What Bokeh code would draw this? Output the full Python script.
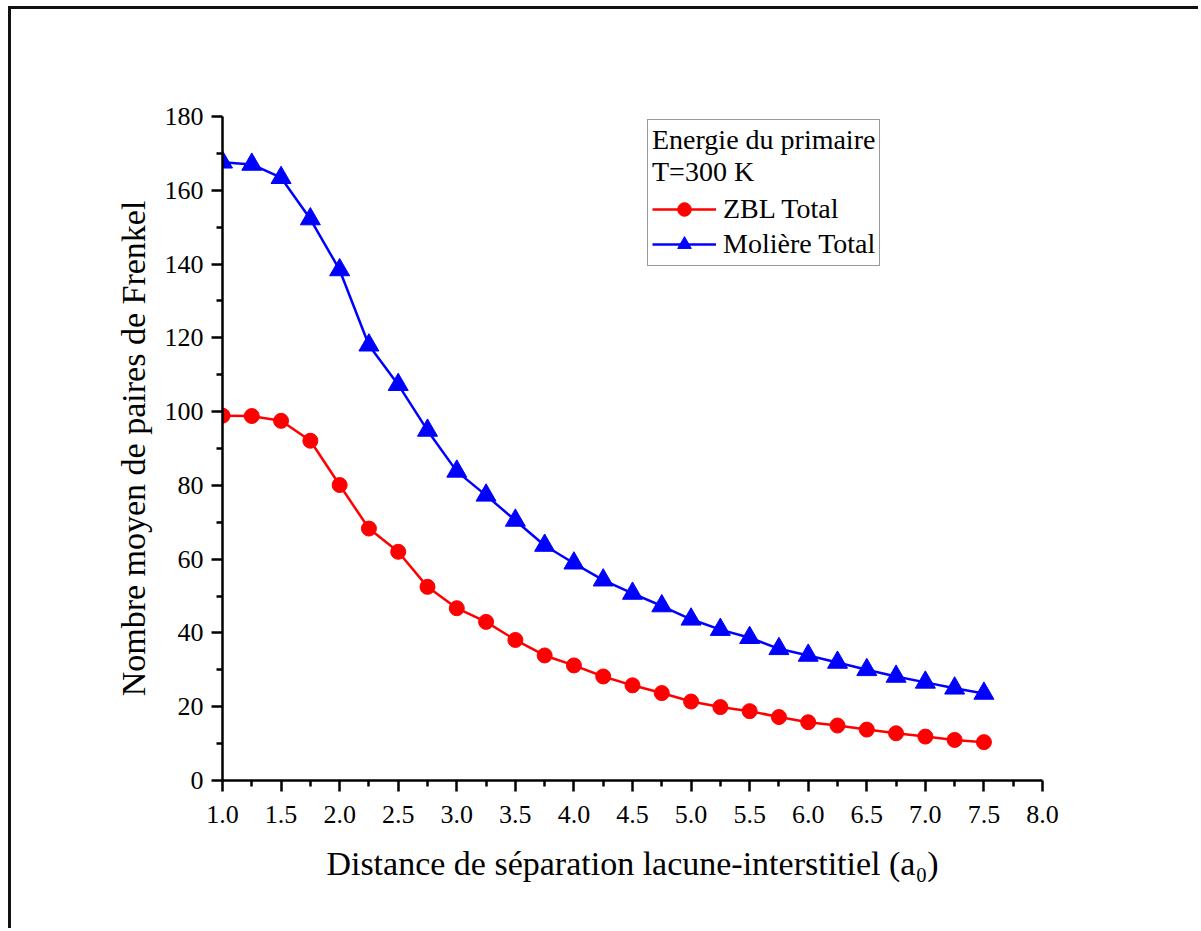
from bokeh.plotting import figure
from bokeh.models import (Range1d, FixedTicker, Legend, LegendItem, ColumnDataSource)
from bokeh.embed import file_html
from bokeh.resources import INLINE

# ---- data ----
distance = [1.0, 1.25, 1.5, 1.75, 2.0, 2.25, 2.5, 2.75, 3.0, 3.25, 3.5, 3.75, 4.0,
            4.25, 4.5, 4.75, 5.0, 5.25, 5.5, 5.75, 6.0, 6.25, 6.5, 6.75, 7.0, 7.25, 7.5]
zbl_total = [98.9, 98.8, 97.5, 92.1, 80.1, 68.3, 62.0, 52.5, 46.7, 43.0, 38.1, 33.9, 31.2,
             28.2, 25.8, 23.7, 21.4, 19.9, 18.8, 17.2, 15.8, 14.9, 13.8, 12.8, 11.9, 11.0, 10.4]
moliere_total = [167.6, 167.0, 163.4, 152.2, 138.4, 118.0, 107.3, 94.9, 83.8, 77.3, 70.5, 63.7, 58.9,
                 54.3, 50.7, 47.3, 43.7, 40.9, 38.7, 35.7, 33.9, 32.0, 30.0, 28.2, 26.6, 25.0, 23.6]

x_ticks = [1.0, 1.5, 2.0, 2.5, 3.0, 3.5, 4.0, 4.5, 5.0, 5.5, 6.0, 6.5, 7.0, 7.5, 8.0]
x_tick_labels = ["1.0", "1.5", "2.0", "2.5", "3.0", "3.5", "4.0", "4.5", "5.0", "5.5",
                 "6.0", "6.5", "7.0", "7.5", "8.0"]
x_minor = [1.25, 1.75, 2.25, 2.75, 3.25, 3.75, 4.25, 4.75, 5.25, 5.75, 6.25, 6.75, 7.25, 7.75]
y_ticks = [0, 20, 40, 60, 80, 100, 120, 140, 160, 180]
y_minor = [10, 30, 50, 70, 90, 110, 130, 150, 170]

legend_title = "Energie du primaire\nT=300 K"
series_names = ["ZBL Total", "Molière Total"]

FONT = "Liberation Serif"

W, H = 1190, 922
FL, FT, FW, FH = 211, 107, 820, 664

p = figure(width=W, height=H, output_backend="svg", toolbar_location=None,
           x_range=Range1d(1.0, 8.0), y_range=Range1d(0, 180),
           min_border_left=FL, min_border_top=FT,
           min_border_right=W - FL - FW, min_border_bottom=H - FT - FH,
           margin=(6, 0, 0, 8),
           styles={"border-left": "3px solid #111111", "border-top": "3px solid #111111"})

p.outline_line_color = None
p.xgrid.visible = False
p.ygrid.visible = False
p.background_fill_color = "white"
p.border_fill_color = "white"

src = ColumnDataSource(dict(x=distance, zbl=zbl_total, mol=moliere_total))

l1 = p.line("x", "zbl", source=src, line_color="#FF0000", line_width=2.5)
s1 = p.scatter("x", "zbl", source=src, marker="circle", size=15,
               fill_color="#FF0000", line_color="#FF0000")
l2 = p.line("x", "mol", source=src, line_color="#0000FF", line_width=2.5)
s2 = p.scatter("x", "mol", source=src, marker="triangle", size=20,
               fill_color="#0000FF", line_color="#0000FF")

for ax in (p.xaxis[0], p.yaxis[0]):
    ax.axis_line_width = 2.5
    ax.axis_line_color = "black"
    ax.major_tick_line_width = 2.5
    ax.minor_tick_line_width = 2.5
    ax.major_tick_line_color = "black"
    ax.minor_tick_line_color = "black"
    ax.major_tick_in = 0
    ax.major_tick_out = 11
    ax.minor_tick_in = 0
    ax.minor_tick_out = 6
    ax.major_label_text_font = FONT
    ax.major_label_text_font_size = "26px"
    ax.major_label_text_color = "black"
    ax.axis_label_text_font = FONT
    ax.axis_label_text_font_size = "34px"
    ax.axis_label_text_font_style = "normal"
    ax.axis_label_text_color = "black"

p.xaxis[0].ticker = FixedTicker(ticks=x_ticks, minor_ticks=x_minor)
p.xaxis[0].major_label_overrides = {t: s for t, s in zip(x_ticks, x_tick_labels)}
p.yaxis[0].ticker = FixedTicker(ticks=y_ticks, minor_ticks=y_minor)
p.xaxis[0].major_label_standoff = 14
p.yaxis[0].major_label_standoff = 8
p.xaxis[0].axis_label = "Distance de séparation lacune-interstitiel (a\u2080)"
p.yaxis[0].axis_label = "Nombre moyen de paires de Frenkel"
p.xaxis[0].axis_label_standoff = 19
p.yaxis[0].axis_label_standoff = 10

legend = Legend(items=[LegendItem(label=series_names[0], renderers=[l1, s1]),
                       LegendItem(label=series_names[1], renderers=[l2, s2])],
                title=legend_title, location=(425, 514))
legend.title_text_font = FONT
legend.title_text_font_size = "28px"
legend.title_text_font_style = "normal"
legend.title_text_color = "black"
legend.title_standoff = 4
legend.label_text_font = FONT
legend.label_text_font_size = "28px"
legend.label_text_color = "black"
legend.glyph_width = 64
legend.glyph_height = 34
legend.label_height = 34
legend.label_standoff = 7
legend.spacing = 1
legend.padding = 4
legend.margin = 0
legend.border_line_color = "#333333"
legend.border_line_width = 1.5
legend.background_fill_alpha = 1.0
p.add_layout(legend, "center")

open("out.html", "w").write(file_html(p, INLINE))
